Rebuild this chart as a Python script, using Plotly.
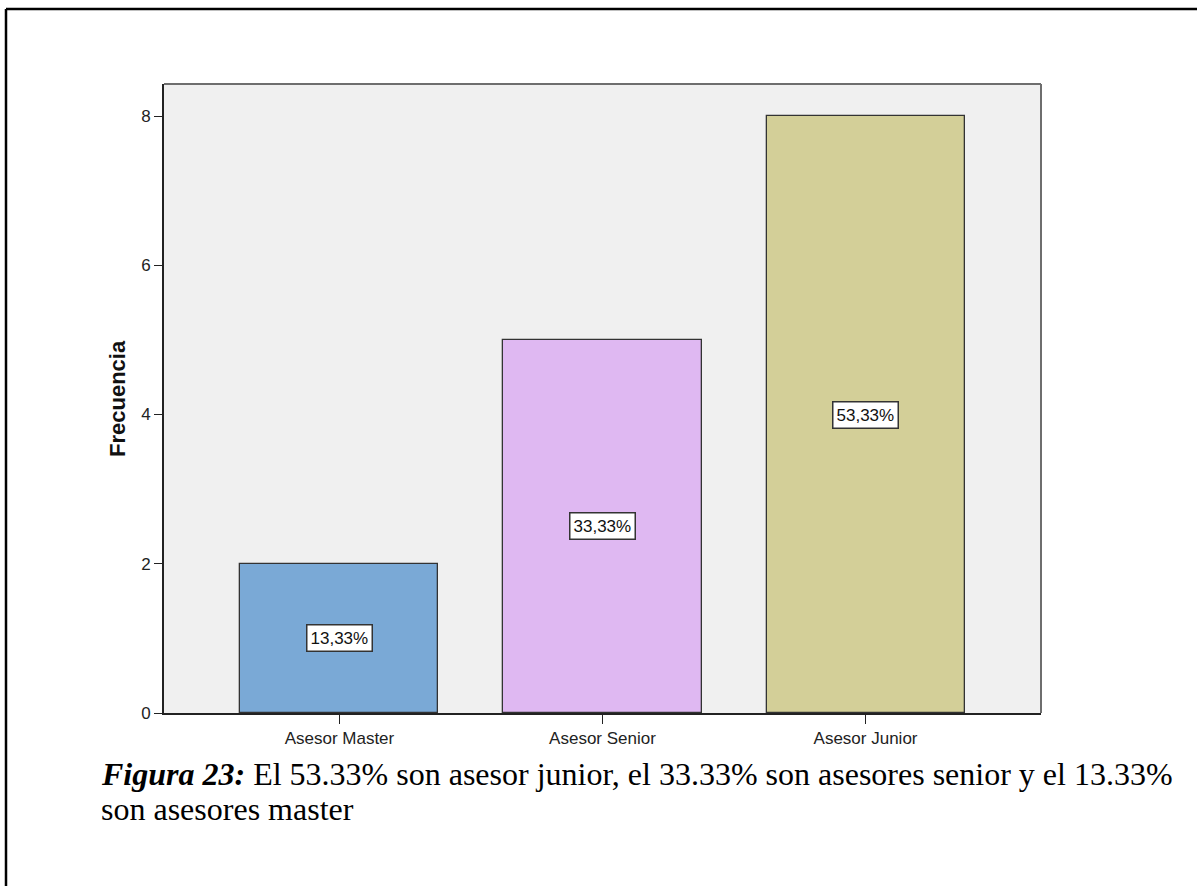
import plotly.graph_objects as go

# Frequency of advisors by category
categorias = ["Asesor Master", "Asesor Senior", "Asesor Junior"]
frecuencias = [2, 5, 8]
porcentajes = ["13,33%", "33,33%", "53,33%"]
colores = ["#7AA9D6", "#DFB8F2", "#D3CF98"]

y_ticks = [0, 2, 4, 6, 8]

W, H = 1197, 886
# plot area in pixels
L, R, T, B = 164, 1041, 84, 713


def px_x(px):
    return (px - L) / (R - L)


def px_y(py):
    return (B - py) / (B - T)


fig = go.Figure()
fig.add_trace(go.Bar(
    x=list(range(len(categorias))),
    y=frecuencias,
    width=0.753,
    marker=dict(color=colores, line=dict(color="#333333", width=1.3)),
    hoverinfo="skip",
    showlegend=False,
))

# percentage boxes placed at half the bar height
for i, (f, p) in enumerate(zip(frecuencias, porcentajes)):
    fig.add_annotation(
        x=i, y=f / 2, xref="x", yref="y", text=p, showarrow=False,
        font=dict(family="Liberation Sans, Arial", size=17, color="#111111"),
        bgcolor="white", bordercolor="#333333", borderwidth=1.5, borderpad=3,
    )

# y-axis title
fig.add_annotation(
    x=px_x(117.5), y=0.5, xref="paper", yref="paper", text="<b>Frecuencia</b>",
    textangle=-90, showarrow=False, xanchor="center", yanchor="middle",
    font=dict(family="Liberation Sans, Arial", size=22, color="#111111"),
)

# caption
fig.add_annotation(
    x=px_x(99), y=px_y(774), xref="paper", yref="paper", xanchor="left", yanchor="middle",
    text="<b><i>Figura 23:</i></b> El 53.33% son asesor junior, el 33.33% son asesores senior y el 13.33%",
    showarrow=False, font=dict(family="Liberation Serif, Times New Roman", size=32, color="black"),
)
fig.add_annotation(
    x=px_x(99), y=px_y(809), xref="paper", yref="paper", xanchor="left", yanchor="middle",
    text="son asesores master",
    showarrow=False, font=dict(family="Liberation Serif, Times New Roman", size=32, color="black"),
)

# plot frame (top and right) and outer page border (left and top)
fig.add_shape(type="line", xref="paper", yref="paper", x0=0, x1=1, y0=1, y1=1,
              line=dict(color="#6E6E6E", width=2), layer="above")
fig.add_shape(type="line", xref="paper", yref="paper", x0=1, x1=1, y0=0, y1=1,
              line=dict(color="#6E6E6E", width=2), layer="above")
fig.add_shape(type="line", xref="paper", yref="paper", x0=px_x(6), x1=px_x(1200),
              y0=px_y(9), y1=px_y(9), line=dict(color="black", width=2.5))
fig.add_shape(type="line", xref="paper", yref="paper", x0=px_x(6), x1=px_x(6),
              y0=px_y(9), y1=px_y(890), line=dict(color="black", width=2.5))

fig.update_layout(
    width=W, height=H,
    margin=dict(l=L, r=W - R, t=T, b=H - B),
    paper_bgcolor="white", plot_bgcolor="#F0F0F0",
    bargap=0,
)
fig.update_xaxes(
    range=[-0.667, 2.667], tickmode="array", tickvals=list(range(len(categorias))),
    ticktext=categorias, ticks="outside", ticklen=9, tickwidth=1.3, tickcolor="#222222",
    showline=True, linecolor="#222222", linewidth=1.6, showgrid=False, zeroline=False,
    tickfont=dict(family="Liberation Sans, Arial", size=17, color="#222222"),
)
fig.update_yaxes(
    range=[0, 8.43], tickmode="array", tickvals=y_ticks, ticks="outside", ticklen=8,
    tickwidth=1.3, tickcolor="#222222", showline=True, linecolor="#222222", linewidth=1.6,
    showgrid=False, zeroline=False,
    tickfont=dict(family="Liberation Sans, Arial", size=17, color="#222222"),
)

fig.write_html("out.html")
